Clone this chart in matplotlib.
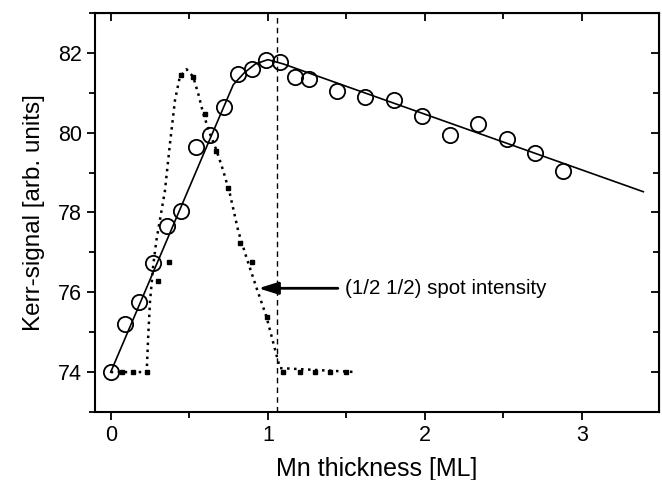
import matplotlib
matplotlib.use("Agg")
import matplotlib.pyplot as plt

plt.rcParams['font.family'] = ['Liberation Sans', 'DejaVu Sans']

# Kerr signal data (open circles)
kerr_x = [0.00, 0.09, 0.18, 0.27, 0.36, 0.45, 0.54, 0.63, 0.72, 0.81, 0.90, 0.99,
          1.08, 1.17, 1.26, 1.44, 1.62, 1.80, 1.98, 2.16, 2.34, 2.52, 2.70, 2.88]
kerr_y = [74.00, 75.21, 75.76, 76.73, 77.66, 78.04, 79.65, 79.95, 80.64, 81.46, 81.59, 81.82,
          81.76, 81.40, 81.35, 81.05, 80.90, 80.83, 80.43, 79.95, 80.22, 79.85, 79.49, 79.05]

# Fitted solid curve through Kerr data
fit_x = [0.00, 0.20, 0.40, 0.60, 0.78, 0.85, 0.92, 1.00, 1.10, 3.39]
fit_y = [74.00, 75.85, 77.70, 79.55, 81.20, 81.50, 81.72, 81.83, 81.72, 78.52]

# (1/2 1/2) spot intensity dotted curve
spot_x = [0.00, 0.229, 0.239, 0.25, 0.271, 0.29, 0.345, 0.377, 0.409, 0.44, 0.483,
          0.525, 0.557, 0.589, 0.632, 0.674, 0.716, 0.759, 0.812, 0.865, 0.929,
          0.992, 1.045, 1.077, 1.565]
spot_y = [74.00, 74.00, 74.92, 75.76, 76.69, 77.28, 78.54, 79.72, 80.81, 81.40, 81.59,
          81.40, 80.98, 80.48, 79.97, 79.55, 79.05, 78.46, 77.53, 76.86, 76.10,
          75.38, 74.58, 74.10, 74.00]

# small square measurement markers of the spot intensity
sq_x = [0.07, 0.144, 0.229, 0.303, 0.373, 0.45, 0.525, 0.60, 0.67, 0.748, 0.823,
        0.897, 0.992, 1.098, 1.204, 1.30, 1.395, 1.50]
sq_y = [74.0, 74.0, 74.0, 76.29, 76.77, 81.44, 81.40, 80.48, 79.53, 78.62, 77.23,
        76.77, 75.38, 74.0, 74.0, 74.0, 74.0, 74.0]

vline_x = 1.06
x_ticks = [0, 1, 2, 3]
y_ticks = [74, 76, 78, 80, 82]
annot_text = "(1/2 1/2) spot intensity"

fig = plt.figure(figsize=(6.62, 4.8), dpi=100)
ax = fig.add_axes([0.1435, 0.1417, 0.852, 0.8313])

ax.plot(spot_x, spot_y, linestyle=(0, (1, 1.8)), color='black', lw=1.8, zorder=2)
ax.plot(sq_x, sq_y, linestyle='none', marker='s', ms=3, color='black', zorder=2)
ax.plot(fit_x, fit_y, color='black', lw=1.2, zorder=3)
ax.plot(kerr_x, kerr_y, linestyle='none', marker='o', ms=11, mfc='none',
        mec='black', mew=1.3, zorder=4)
ax.axvline(vline_x, color='black', lw=1.0, linestyle=(0, (4, 3)), zorder=1)

ax.annotate(annot_text, xy=(0.94, 76.1), xytext=(1.49, 76.1), ha='left', va='center',
            fontsize=14.8,
            arrowprops=dict(arrowstyle='-|>,head_length=0.8,head_width=0.25',
                            lw=2, color='black', shrinkA=3, shrinkB=0))

ax.set_xlim(-0.1, 3.49)
ax.set_ylim(73, 83)
ax.set_xticks(x_ticks)
ax.set_yticks(y_ticks)
ax.set_xticks([0.5, 1.5, 2.5], minor=True)
ax.set_yticks([73, 75, 77, 79, 81, 83], minor=True)

ax.tick_params(axis='both', which='major', labelsize=15.5, width=1.3, length=6, direction='out')
ax.tick_params(axis='both', which='minor', width=1.3, length=4, direction='out')
for s in ax.spines.values():
    s.set_linewidth(1.5)

# mirrored inward ticks on top/right
axt = ax.secondary_xaxis('top')
axt.set_xticks(x_ticks)
axt.set_xticks([0.5, 1.5, 2.5], minor=True)
axt.tick_params(which='major', direction='in', length=6, width=1.3, labeltop=False)
axt.tick_params(which='minor', direction='in', length=4, width=1.3)
axt.set_xticklabels([])
axr = ax.secondary_yaxis('right')
axr.set_yticks(y_ticks)
axr.set_yticks([73, 75, 77, 79, 81, 83], minor=True)
axr.tick_params(which='major', direction='in', length=6, width=1.3)
axr.tick_params(which='minor', direction='in', length=4, width=1.3)
axr.set_yticklabels([])

ax.set_xlabel("Mn thickness [ML]", fontsize=18, labelpad=8)
ax.set_ylabel("Kerr-signal [arb. units]", fontsize=17.5, labelpad=9)

fig.savefig("out.png", dpi=100)
